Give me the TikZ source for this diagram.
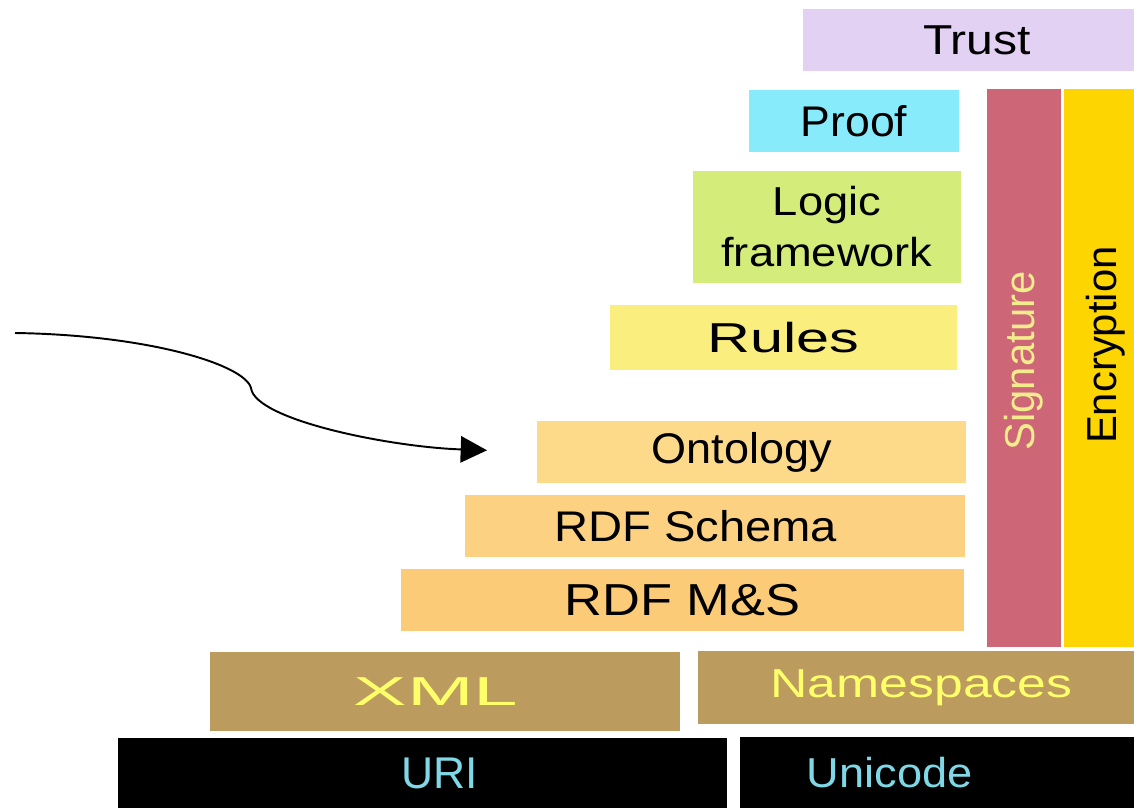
\documentclass[tikz,border=0pt]{standalone}
\usepackage{fontspec}
\usepackage{graphicx}
\setmainfont{Liberation Sans}
\usetikzlibrary{arrows.meta}
\definecolor{trustc}{HTML}{E3D1F3}
\definecolor{proofc}{HTML}{88EBFB}
\definecolor{logicc}{HTML}{D4EC7A}
\definecolor{rulesc}{HTML}{FAEE7E}
\definecolor{ontoc}{HTML}{FDD98A}
\definecolor{rdfsc}{HTML}{FCD181}
\definecolor{rdfmc}{HTML}{FBCB78}
\definecolor{sigc}{HTML}{CD6677}
\definecolor{encc}{HTML}{FDD501}
\definecolor{xmlc}{HTML}{BC9B5F}
\definecolor{paleyel}{HTML}{FFFF6A}
\definecolor{sigtext}{HTML}{F2EC8C}
\definecolor{unitext}{HTML}{80D8E6}
\newcommand{\sx}[2]{\scalebox{#1}[1]{#2}}
\newcommand{\fs}[1]{\fontsize{#1pt}{29pt}\selectfont}
\begin{document}
\begin{tikzpicture}[x = .02cm, y = -.02cm,
		layer/.style = {inner sep = 0pt, outer sep = 0pt, text = black},
		vbar/.style = {layer, rotate = 90, minimum width = 558*\u}]
	\def\u{.02cm}
	\useasboundingbox (0, 0) rectangle (1134, 808);
	\clip (0, 0) rectangle (1134, 808);
	\fill[white] (0, 0) rectangle (1134, 808);
	% upper layers
	\node[layer, fill = trustc, minimum width = 348*\u, minimum height = 62*\u] (trust) at (977, 40) {\fs{23.8}\sx{1.15}{Trust}};
	\node[layer, fill = proofc, minimum width = 210*\u, minimum height = 62*\u] (proof) at (854, 121) {\fs{24.4}\sx{1.04}{Proof}};
	\node[layer, fill = logicc, minimum width = 268*\u, minimum height = 112*\u, align = center, font = \fs{23}] (logic) at (827, 227) {\sx{1.12}{Logic}\\\sx{1.12}{framework}};
	\node[layer, fill = rulesc, minimum width = 347*\u, minimum height = 65*\u] (rules) at (783.5, 337.5) {\fs{23.8}\sx{1.42}{Rules}};
	\node[layer, fill = ontoc, minimum width = 429*\u, minimum height = 62*\u] (onto) at (751.5, 452) {\fs{24.4}\sx{1.05}{Ontology}\hspace*{11pt}};
	\node[layer, fill = rdfsc, minimum width = 500*\u, minimum height = 62*\u] (rdfs) at (715, 526) {\fs{24.4}\sx{1.10}{RDF Schema}\hspace*{22pt}};
	\node[layer, fill = rdfmc, minimum width = 563*\u, minimum height = 62*\u] (rdfms) at (682.5, 600) {\fs{25.5}\sx{1.17}{RDF M\&S}};
	% side bars
	\node[vbar, fill = sigc, minimum height = 74*\u, text = sigtext] (sig) at (1024, 368) {\fs{23.8}\hspace*{8pt}Signature};
	\node[vbar, fill = encc, minimum height = 84*\u] (enc) at (1106, 368) {\fs{23.8}\hspace*{26pt}Encryption};
	% base layers
	\node[layer, fill = xmlc, minimum width = 470*\u, minimum height = 79*\u, text = paleyel] (xml) at (445, 691.5) {\fs{23}\sx{1.98}{XML}\hspace*{10pt}};
	\node[layer, fill = xmlc, minimum width = 447*\u, minimum height = 73*\u, text = paleyel] (ns) at (921.5, 687.5) {\fs{23}\sx{1.28}{Namespaces}};
	\node[layer, fill = black, minimum width = 609*\u, minimum height = 70*\u, text = unitext] (uri) at (422.5, 773) {\fs{25.3}\hspace*{20pt}URI};
	\node[layer, fill = black, minimum width = 394*\u, minimum height = 71*\u, text = unitext] (uni) at (937, 772.5) {\fs{23.8}\sx{1.08}{Unicode}\hspace*{54pt}};
	% pointer
	\coordinate (from) at (15, 333);
	\draw[line width = 1.1pt, -{Triangle[length = 15pt, width = 15pt]}, shorten > = 1cm] (from) .. controls (150, 335) and (245, 365) .. (251, 388) .. controls (255, 420) and (390, 447) .. (onto.west);
\end{tikzpicture}
\end{document}
